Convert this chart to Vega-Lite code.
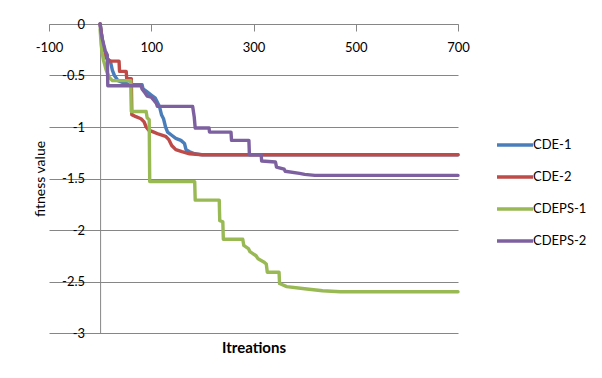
{
  "$schema": "https://vega.github.io/schema/vega-lite/v6.json",
  "width": 409,
  "height": 309,
  "autosize": {"type": "none"},
  "padding": {"left": 49, "top": 24, "right": 144, "bottom": 45},
  "background": "white",
  "config": {"view": {"stroke": null}, "font": "Lato"},
  "datasets": {
    "pts": [
      {"series": "CDE-1", "iter": 0, "fitness": 0},
      {"series": "CDE-1", "iter": 4, "fitness": -0.15},
      {"series": "CDE-1", "iter": 8, "fitness": -0.25},
      {"series": "CDE-1", "iter": 12, "fitness": -0.33},
      {"series": "CDE-1", "iter": 20, "fitness": -0.36},
      {"series": "CDE-1", "iter": 24, "fitness": -0.45},
      {"series": "CDE-1", "iter": 28, "fitness": -0.5},
      {"series": "CDE-1", "iter": 35, "fitness": -0.55},
      {"series": "CDE-1", "iter": 45, "fitness": -0.57},
      {"series": "CDE-1", "iter": 60, "fitness": -0.59},
      {"series": "CDE-1", "iter": 82, "fitness": -0.59},
      {"series": "CDE-1", "iter": 84, "fitness": -0.63},
      {"series": "CDE-1", "iter": 92, "fitness": -0.66},
      {"series": "CDE-1", "iter": 100, "fitness": -0.69},
      {"series": "CDE-1", "iter": 108, "fitness": -0.72},
      {"series": "CDE-1", "iter": 112, "fitness": -0.76},
      {"series": "CDE-1", "iter": 116, "fitness": -0.8},
      {"series": "CDE-1", "iter": 120, "fitness": -0.88},
      {"series": "CDE-1", "iter": 124, "fitness": -0.92},
      {"series": "CDE-1", "iter": 128, "fitness": -1.0},
      {"series": "CDE-1", "iter": 132, "fitness": -1.05},
      {"series": "CDE-1", "iter": 140, "fitness": -1.08},
      {"series": "CDE-1", "iter": 148, "fitness": -1.11},
      {"series": "CDE-1", "iter": 158, "fitness": -1.13},
      {"series": "CDE-1", "iter": 165, "fitness": -1.16},
      {"series": "CDE-1", "iter": 168, "fitness": -1.22},
      {"series": "CDE-1", "iter": 175, "fitness": -1.24},
      {"series": "CDE-1", "iter": 185, "fitness": -1.26},
      {"series": "CDE-1", "iter": 200, "fitness": -1.27},
      {"series": "CDE-1", "iter": 700, "fitness": -1.27},

      {"series": "CDE-2", "iter": 0, "fitness": 0},
      {"series": "CDE-2", "iter": 4, "fitness": -0.15},
      {"series": "CDE-2", "iter": 8, "fitness": -0.25},
      {"series": "CDE-2", "iter": 12, "fitness": -0.32},
      {"series": "CDE-2", "iter": 18, "fitness": -0.36},
      {"series": "CDE-2", "iter": 37, "fitness": -0.36},
      {"series": "CDE-2", "iter": 38, "fitness": -0.46},
      {"series": "CDE-2", "iter": 51, "fitness": -0.46},
      {"series": "CDE-2", "iter": 52, "fitness": -0.53},
      {"series": "CDE-2", "iter": 61, "fitness": -0.53},
      {"series": "CDE-2", "iter": 62, "fitness": -0.88},
      {"series": "CDE-2", "iter": 70, "fitness": -0.9},
      {"series": "CDE-2", "iter": 80, "fitness": -0.92},
      {"series": "CDE-2", "iter": 86, "fitness": -0.95},
      {"series": "CDE-2", "iter": 90, "fitness": -1.0},
      {"series": "CDE-2", "iter": 95, "fitness": -1.03},
      {"series": "CDE-2", "iter": 105, "fitness": -1.05},
      {"series": "CDE-2", "iter": 115, "fitness": -1.07},
      {"series": "CDE-2", "iter": 128, "fitness": -1.09},
      {"series": "CDE-2", "iter": 134, "fitness": -1.12},
      {"series": "CDE-2", "iter": 140, "fitness": -1.18},
      {"series": "CDE-2", "iter": 148, "fitness": -1.22},
      {"series": "CDE-2", "iter": 160, "fitness": -1.24},
      {"series": "CDE-2", "iter": 175, "fitness": -1.26},
      {"series": "CDE-2", "iter": 200, "fitness": -1.27},
      {"series": "CDE-2", "iter": 700, "fitness": -1.27},

      {"series": "CDEPS-1", "iter": 0, "fitness": -0.05},
      {"series": "CDEPS-1", "iter": 2, "fitness": -0.2},
      {"series": "CDEPS-1", "iter": 4, "fitness": -0.28},
      {"series": "CDEPS-1", "iter": 7, "fitness": -0.36},
      {"series": "CDEPS-1", "iter": 12, "fitness": -0.45},
      {"series": "CDEPS-1", "iter": 18, "fitness": -0.52},
      {"series": "CDEPS-1", "iter": 24, "fitness": -0.55},
      {"series": "CDEPS-1", "iter": 60, "fitness": -0.55},
      {"series": "CDEPS-1", "iter": 61, "fitness": -0.85},
      {"series": "CDEPS-1", "iter": 90, "fitness": -0.85},
      {"series": "CDEPS-1", "iter": 92, "fitness": -0.91},
      {"series": "CDEPS-1", "iter": 96, "fitness": -0.93},
      {"series": "CDEPS-1", "iter": 97, "fitness": -1.53},
      {"series": "CDEPS-1", "iter": 185, "fitness": -1.53},
      {"series": "CDEPS-1", "iter": 186, "fitness": -1.71},
      {"series": "CDEPS-1", "iter": 233, "fitness": -1.71},
      {"series": "CDEPS-1", "iter": 234, "fitness": -1.91},
      {"series": "CDEPS-1", "iter": 240, "fitness": -1.92},
      {"series": "CDEPS-1", "iter": 241, "fitness": -2.09},
      {"series": "CDEPS-1", "iter": 279, "fitness": -2.09},
      {"series": "CDEPS-1", "iter": 281, "fitness": -2.15},
      {"series": "CDEPS-1", "iter": 290, "fitness": -2.18},
      {"series": "CDEPS-1", "iter": 293, "fitness": -2.21},
      {"series": "CDEPS-1", "iter": 305, "fitness": -2.25},
      {"series": "CDEPS-1", "iter": 309, "fitness": -2.28},
      {"series": "CDEPS-1", "iter": 320, "fitness": -2.31},
      {"series": "CDEPS-1", "iter": 325, "fitness": -2.33},
      {"series": "CDEPS-1", "iter": 327, "fitness": -2.41},
      {"series": "CDEPS-1", "iter": 350, "fitness": -2.41},
      {"series": "CDEPS-1", "iter": 351, "fitness": -2.52},
      {"series": "CDEPS-1", "iter": 365, "fitness": -2.55},
      {"series": "CDEPS-1", "iter": 400, "fitness": -2.57},
      {"series": "CDEPS-1", "iter": 435, "fitness": -2.59},
      {"series": "CDEPS-1", "iter": 470, "fitness": -2.6},
      {"series": "CDEPS-1", "iter": 700, "fitness": -2.6},

      {"series": "CDEPS-2", "iter": 0, "fitness": 0},
      {"series": "CDEPS-2", "iter": 2, "fitness": -0.08},
      {"series": "CDEPS-2", "iter": 4, "fitness": -0.14},
      {"series": "CDEPS-2", "iter": 7, "fitness": -0.2},
      {"series": "CDEPS-2", "iter": 10, "fitness": -0.26},
      {"series": "CDEPS-2", "iter": 14, "fitness": -0.3},
      {"series": "CDEPS-2", "iter": 15, "fitness": -0.6},
      {"series": "CDEPS-2", "iter": 80, "fitness": -0.6},
      {"series": "CDEPS-2", "iter": 82, "fitness": -0.63},
      {"series": "CDEPS-2", "iter": 88, "fitness": -0.67},
      {"series": "CDEPS-2", "iter": 92, "fitness": -0.7},
      {"series": "CDEPS-2", "iter": 100, "fitness": -0.71},
      {"series": "CDEPS-2", "iter": 105, "fitness": -0.74},
      {"series": "CDEPS-2", "iter": 110, "fitness": -0.77},
      {"series": "CDEPS-2", "iter": 112, "fitness": -0.8},
      {"series": "CDEPS-2", "iter": 181, "fitness": -0.8},
      {"series": "CDEPS-2", "iter": 184, "fitness": -0.9},
      {"series": "CDEPS-2", "iter": 186, "fitness": -1.01},
      {"series": "CDEPS-2", "iter": 213, "fitness": -1.01},
      {"series": "CDEPS-2", "iter": 214, "fitness": -1.05},
      {"series": "CDEPS-2", "iter": 256, "fitness": -1.05},
      {"series": "CDEPS-2", "iter": 257, "fitness": -1.13},
      {"series": "CDEPS-2", "iter": 291, "fitness": -1.13},
      {"series": "CDEPS-2", "iter": 292, "fitness": -1.27},
      {"series": "CDEPS-2", "iter": 315, "fitness": -1.27},
      {"series": "CDEPS-2", "iter": 316, "fitness": -1.33},
      {"series": "CDEPS-2", "iter": 343, "fitness": -1.34},
      {"series": "CDEPS-2", "iter": 345, "fitness": -1.39},
      {"series": "CDEPS-2", "iter": 360, "fitness": -1.41},
      {"series": "CDEPS-2", "iter": 362, "fitness": -1.43},
      {"series": "CDEPS-2", "iter": 390, "fitness": -1.45},
      {"series": "CDEPS-2", "iter": 400, "fitness": -1.46},
      {"series": "CDEPS-2", "iter": 420, "fitness": -1.47},
      {"series": "CDEPS-2", "iter": 700, "fitness": -1.47}
    ]
  },
  "data": {"name": "pts"},
  "mark": {"type": "line", "strokeWidth": 3.4, "interpolate": "linear", "strokeJoin": "round", "strokeCap": "round"},
  "encoding": {
    "x": {
      "field": "iter",
      "type": "quantitative",
      "scale": {"domain": [-100, 700], "nice": false, "zero": false},
      "axis": {
        "orient": "bottom",
        "offset": -309,
        "values": [-100, 100, 300, 500, 700],
        "grid": false,
        "domainColor": "#868686",
        "domainWidth": 1,
        "tickColor": "#868686",
        "tickSize": 7,
        "labelPadding": 16,
        "labelBaseline": "middle",
        "labelExpr": "toString(datum.value)",
        "labelFontSize": 13,
        "labelColor": "#000000",
        "labelFlush": false,
        "title": "Itreations",
        "titleFontSize": 15,
        "titleFontWeight": "bold",
        "titleColor": "#000000",
        "titleX": 204.5,
        "titleY": 323,
        "titleAlign": "center",
        "titleBaseline": "middle"
      }
    },
    "y": {
      "field": "fitness",
      "type": "quantitative",
      "scale": {"domain": [-3, 0], "nice": false, "zero": false},
      "axis": {
        "orient": "left",
        "offset": -51.1,
        "values": [0, -0.5, -1, -1.5, -2, -2.5, -3],
        "grid": true,
        "gridColor": "#868686",
        "gridWidth": 1,
        "domainColor": "#868686",
        "domainWidth": 1,
        "tickColor": "#868686",
        "tickSize": 7,
        "labelPadding": 8.5,
        "labelAlign": "right",
        "labelBaseline": "middle",
        "labelExpr": "toString(datum.value)",
        "labelFontSize": 13,
        "labelColor": "#000000",
        "labelFlush": false,
        "title": "fitness value",
        "titleFontSize": 14,
        "titleFontWeight": "normal",
        "titleColor": "#000000",
        "titleAngle": -90,
        "titleX": -60,
        "titleY": 154.5,
        "titleAlign": "center",
        "titleBaseline": "middle"
      }
    },
    "color": {
      "field": "series",
      "type": "nominal",
      "scale": {
        "domain": ["CDE-1", "CDE-2", "CDEPS-1", "CDEPS-2"],
        "range": ["#4A7EBB", "#BE4B48", "#98B954", "#7D60A0"]
      },
      "legend": {
        "orient": "none",
        "legendX": 446,
        "legendY": 101,
        "title": null,
        "symbolType": "stroke",
        "symbolSize": 1296,
        "symbolStrokeWidth": 3.5,
        "labelFontSize": 13,
        "labelColor": "#000000",
        "labelOffset": -2,
        "rowPadding": 5
      }
    }
  }
}
